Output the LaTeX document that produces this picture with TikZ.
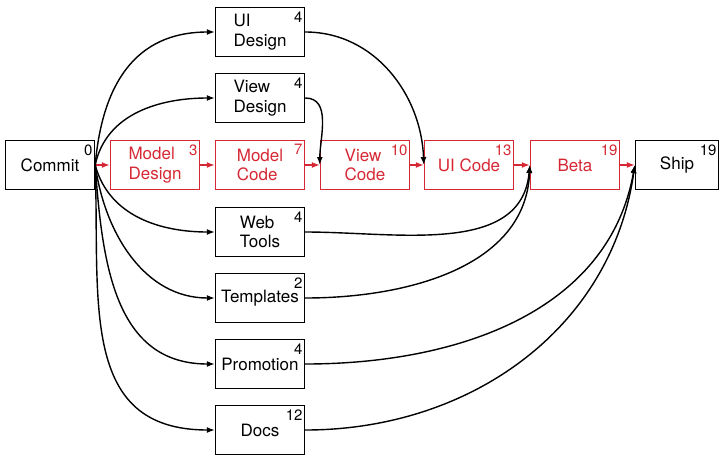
\documentclass[tikz,border=0pt]{standalone}
\usepackage{fontspec}
\setmainfont{TeX Gyre Heros}
\usepackage{tikz}
\usetikzlibrary{arrows.meta}
\definecolor{Red1}{RGB}{214,40,52}

\tikzset{
	task/.style={draw, line width=1.4pt, minimum width=89pt, minimum height=49pt, align=left, inner sep=1pt},
	crit/.style={task, draw=Red1, text=Red1},
	durlab/.style={anchor=north east, inner sep=0pt, xshift=-2pt, yshift=-4pt, font=\fontsize{15}{15}\selectfont},
	dur/.style={label={[durlab]north east:#1}},
	rdur/.style={label={[durlab,text=Red1]north east:#1}},
}

\begin{document}
\begin{tikzpicture}[x=1pt,y=1pt]

\useasboundingbox (0,0) rectangle (720,-456);

\begin{scope}[>={Latex[length=8pt,width=6pt]}, line width=1.4pt, font=\fontsize{17}{19.5}\selectfont]
% critical path
\node[task,dur=0] (commit) at (50,-165) {Commit};
\node[crit,rdur=3] (mdesign) at (155,-165) {Model\\Design};
\node[crit,rdur=7] (mcode) at (260,-165) {Model\\Code};
\node[crit,rdur=10] (vcode) at (365,-165) {View\\Code};
\node[crit,rdur=13] (uicode) at (469,-165) {UI Code};
\node[crit,rdur=19] (beta) at (575,-165) {Beta};
\node[task,dur=19,minimum width=83pt] (ship) at (677,-165) {Ship};

% side tasks
\node[task,dur=4] (uidesign) at (260,-32) {UI\\Design};
\node[task,dur=4] (vdesign) at (260,-98) {View\\Design};
\node[task,dur=4] (webtools) at (260,-232) {Web\\Tools};
\node[task,dur=2] (templates) at (260,-298) {Templates};
\node[task,dur=4] (promotion) at (260,-364) {Promotion};
\node[task,dur=12] (docs) at (260,-430) {Docs};

\draw[->,Red1] (commit) -- (mdesign);
\draw[->,Red1] (mdesign) -- (mcode);
\draw[->,Red1] (mcode) -- (vcode);
\draw[->,Red1] (vcode) -- (uicode);
\draw[->,Red1] (uicode) -- (beta);
\draw[->,Red1] (beta) -- (ship);

\draw[->] (commit.east) to[out=85,in=180,looseness=1.15] (uidesign.west);
\draw[->] (commit.east) to[out=78,in=180] (vdesign.west);
\draw[->] (commit.east) to[out=-75,in=180] (webtools.west);
\draw[->] (commit.east) to[out=-82,in=180] (templates.west);
\draw[->] (commit.east) to[out=-86,in=180,looseness=1.1] (promotion.west);
\draw[->] (commit.east) to[out=-88,in=180,looseness=1.2] (docs.west);

\draw[->] (uidesign.east) to[out=0,in=92] (uicode.west);
\draw[->] (vdesign.east) to[out=0,in=90] (vcode.west);
\draw[->] (webtools.east) to[out=0,in=-95] (beta.west);
\draw[->] (templates.east) to[out=0,in=-92] (beta.west);
\draw[->] (promotion.east) to[out=0,in=-100] (ship.west);
\draw[->] (docs.east) to[out=0,in=-98] (ship.west);
\end{scope}

\end{tikzpicture}
\end{document}
